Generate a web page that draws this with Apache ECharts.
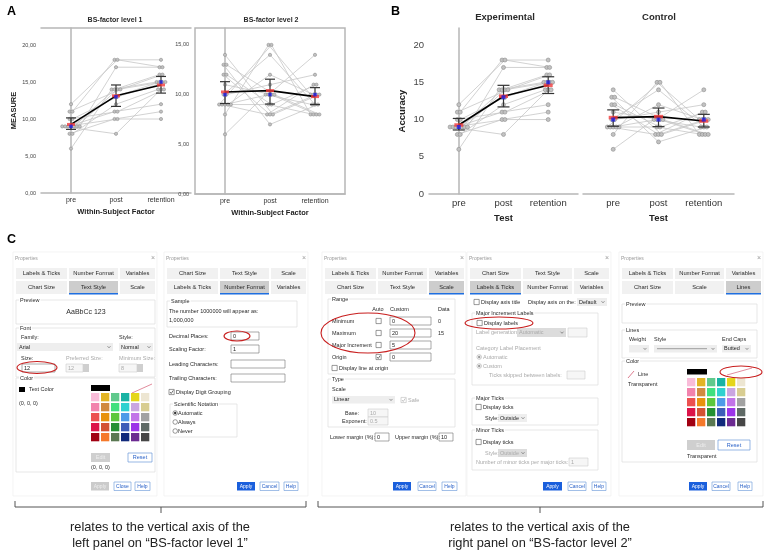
<!DOCTYPE html>
<html>
<head>
<meta charset="UTF-8">
<title>Accuracy by test - SPSS settings</title>
<script src="https://cdn.jsdelivr.net/npm/echarts@6/dist/echarts.min.js"></script>
<style>
  html, body { margin: 0; padding: 0; background: #fff; }
  #main { width: 767px; height: 552px; }
</style>
</head>
<body>
<div id="main"></div>
<script>
// ---- data ----
var tests = ['pre', 'post', 'retention'];

// experimental group (BS-factor level 1), one entry per subject
var expPre  = [6, 8, 8, 9, 9, 9, 9, 9, 9, 9, 10, 10, 11, 11, 12];
var expPost = [14, 10, 12, 8, 10, 11, 13, 14, 14, 17, 11, 13, 14, 18, 18];
var expRet  = [15, 11, 14, 14, 10, 12, 15, 16, 15, 17, 14, 15, 16, 18, 17];
// control group (BS-factor level 2)
var ctlPre  = [6, 8, 9, 9, 9, 9, 9, 10, 10, 11, 12, 12, 13, 13, 14];
var ctlPost = [10, 15, 15, 8, 10, 12, 9, 14, 11, 10, 8, 9, 7, 10, 8];
var ctlRet  = [9, 10, 8, 11, 14, 10, 8, 9, 12, 8, 10, 11, 9, 8, 10];

// error bars (lower / upper end)
var expLow  = [8.6, 11.7, 13.5];
var expHigh = [10.15, 14.6, 15.75];
var ctlLow  = [9.1, 9.05, 9.0];
var ctlHigh = [11.3, 11.55, 10.7];

var ticksA1 = [0, 5, 10, 15, 20];
var ticksA2 = [0, 5, 10, 15];
var ticksB  = [0, 5, 10, 15, 20];

var FF = '"Liberation Sans", Arial, sans-serif';

function mean(a) { return a.reduce(function (s, v) { return s + v; }, 0) / a.length; }
function median(a) { var b = a.slice().sort(function (p, q) { return p - q; }); return b[(b.length - 1) / 2]; }

// spread tied values side by side
function dodge(vals) {
  var count = {}, seen = {};
  vals.forEach(function (v) { count[v] = (count[v] || 0) + 1; });
  return vals.map(function (v) {
    seen[v] = (seen[v] || 0) + 1;
    return (seen[v] - (count[v] + 1) / 2) * 0.065;
  });
}

function errRender(cap) {
  return function (params, api) {
    var x = api.value(0);
    var lo = api.coord([x, api.value(1)]);
    var hi = api.coord([x, api.value(2)]);
    var st = { stroke: '#333', lineWidth: 1.2 };
    return { type: 'group', children: [
      { type: 'line', shape: { x1: lo[0], y1: lo[1], x2: hi[0], y2: hi[1] }, style: st },
      { type: 'line', shape: { x1: lo[0] - cap, y1: lo[1], x2: lo[0] + cap, y2: lo[1] }, style: st },
      { type: 'line', shape: { x1: hi[0] - cap, y1: hi[1], x2: hi[0] + cap, y2: hi[1] }, style: st }
    ] };
  };
}

var series = [];
function addGroup(gi, pre, post, ret, low, high, small) {
  var o0 = dodge(pre), o1 = dodge(post), o2 = dodge(ret);
  for (var i = 0; i < pre.length; i++) {
    series.push({
      type: 'line', xAxisIndex: gi, yAxisIndex: gi, silent: true, z: 2,
      data: [[0 + o0[i], pre[i]], [1 + o1[i], post[i]], [2 + o2[i], ret[i]]],
      symbol: 'circle', symbolSize: small ? 3.2 : 4,
      lineStyle: { color: '#c6c6c6', width: 0.8 },
      itemStyle: { color: '#c2c2c2', borderColor: '#8d8d8d', borderWidth: 0.6 }
    });
  }
  var groups = [pre, post, ret];
  series.push({
    type: 'custom', xAxisIndex: gi, yAxisIndex: gi, silent: true, z: 4,
    renderItem: errRender(small ? 5 : 6),
    encode: { x: 0, y: [1, 2] },
    data: tests.map(function (t, k) { return [k, low[k], high[k]]; })
  });
  series.push({
    type: 'line', xAxisIndex: gi, yAxisIndex: gi, silent: true, z: 5, symbol: 'none',
    lineStyle: { color: '#000', width: 1.6 },
    data: groups.map(function (g, k) { return [k, mean(g)]; })
  });
  series.push({
    type: 'scatter', xAxisIndex: gi, yAxisIndex: gi, silent: true, z: 6,
    symbol: 'rect', symbolSize: small ? [8, 3] : [9, 3.5], itemStyle: { color: '#f23a3a' },
    data: groups.map(function (g, k) { return [k, mean(g)]; })
  });
  series.push({
    type: 'scatter', xAxisIndex: gi, yAxisIndex: gi, silent: true, z: 7,
    symbol: 'rect', symbolSize: small ? 3.5 : 4, itemStyle: { color: '#1f1fe6' },
    data: groups.map(function (g, k) { return [k, median(g)]; })
  });
}
addGroup(0, expPre, expPost, expRet, expLow, expHigh, true);
addGroup(1, ctlPre, ctlPost, ctlRet, ctlLow, ctlHigh, true);
addGroup(2, expPre, expPost, expRet, expLow, expHigh, false);
addGroup(3, ctlPre, ctlPost, ctlRet, ctlLow, ctlHigh, false);

var frame = { color: '#b6b6b6', width: 1.5 };
function xAx(gi, fs, name, nfs, gap) {
  return {
    type: 'value', gridIndex: gi, min: -2 / 3, max: 8 / 3,
    splitLine: { show: false }, axisTick: { show: false },
    axisLine: { show: true, onZero: false, lineStyle: frame },
    axisLabel: { customValues: [0, 1, 2], formatter: function (v) { return tests[Math.round(v)]; },
                 fontSize: fs, color: '#333', margin: 4 },
    name: name, nameLocation: 'middle', nameGap: gap,
    nameTextStyle: { fontWeight: 'bold', fontSize: nfs, color: '#222' }
  };
}
function yAx(gi, max, ticks, fs, fmt, margin, name, nfs, gap, show) {
  return {
    type: 'value', gridIndex: gi, min: 0, max: max, show: show !== false,
    splitLine: { show: false }, axisTick: { show: false },
    axisLine: { show: true, lineStyle: frame },
    axisLabel: { customValues: ticks, formatter: fmt, fontSize: fs, color: '#444', margin: margin },
    name: name, nameLocation: 'middle', nameGap: gap, nameRotate: 90,
    nameTextStyle: { fontWeight: 'bold', fontSize: nfs, color: '#222' }
  };
}
function comma(v) { return v.toFixed(2).replace('.', ','); }
function plain(v) { return String(v); }

// ---- panel C: the dialog boxes ----
var G = [];
function T(x, y, s, o) {
  o = o || {};
  var st = { text: s, fill: o.c || '#2a2a2a', fontSize: o.fs || 5.5, fontFamily: FF,
             fontWeight: o.fw || 'normal', align: o.a || 'left', textAlign: o.a || 'left',
             verticalAlign: 'middle', textVerticalAlign: 'middle' };
  if (o.bg) { st.backgroundColor = o.bg; st.padding = [0, 1]; }
  G.push({ type: 'text', x: x, y: y, silent: true, z: 10, style: st });
}
function R(x, y, w, h, fill, stroke, lw) {
  G.push({ type: 'rect', silent: true, z: 5, shape: { x: x, y: y, width: w, height: h },
           style: { fill: fill || 'none', stroke: stroke || 'none', lineWidth: lw || 0.6 } });
}
function L(x1, y1, x2, y2, c, lw) {
  G.push({ type: 'line', silent: true, z: 6, shape: { x1: x1, y1: y1, x2: x2, y2: y2 },
           style: { stroke: c || '#333', lineWidth: lw || 1 } });
}
function ring(cx, cy, rx, ry) {
  G.push({ type: 'ellipse', silent: true, z: 20, shape: { cx: cx, cy: cy, rx: rx, ry: ry },
           style: { fill: 'none', stroke: '#c81e1e', lineWidth: 1.1 } });
}
function tabs(x0, row1, row2, sel) {
  var cols = [[0, 51], [53, 102], [104, 139]];
  cols.forEach(function (c, k) {
    R(x0 + c[0], 268, c[1] - c[0], 11, '#f1f1f1');
    T(x0 + (c[0] + c[1]) / 2, 273.5, row1[k], { a: 'center', fs: 5.8 });
    R(x0 + c[0], 281, c[1] - c[0], 13, k === sel ? '#cdcdcd' : '#f1f1f1');
    if (k === sel) R(x0 + c[0], 293, c[1] - c[0], 1.5, '#1f6fe0');
    T(x0 + (c[0] + c[1]) / 2, 287.5, row2[k], { a: 'center', fs: 5.8 });
  });
  T(x0 - 1, 258.5, 'Properties', { c: '#9a9a9a', fs: 5 });
  T(x0 + 137, 258.5, '×', { c: '#9a9a9a', fs: 7, a: 'center' });
  R(x0 - 3, 252, 144, 244, 'none', '#ececec', 0.6);
}
function group(x, y, w, h, label) {
  R(x, y, w, h, 'none', '#dddddd', 0.7);
  T(x + 3, y, label, { bg: '#fff', fs: 5.5 });
}
function box(x, y, checked, dis) {
  R(x, y - 2.6, 5.2, 5.2, '#fff', dis ? '#bbb' : '#555', 0.6);
  if (checked) G.push({ type: 'polyline', silent: true, z: 7,
    shape: { points: [[x + 1, y], [x + 2.2, y + 1.5], [x + 4.3, y - 1.6]] },
    style: { stroke: dis ? '#aaa' : '#333', fill: 'none', lineWidth: 0.7 } });
}
function radio(x, y, checked, dis) {
  G.push({ type: 'circle', silent: true, z: 7, shape: { cx: x + 2.2, cy: y, r: 2.3 },
           style: { fill: '#fff', stroke: dis ? '#aaa' : '#555', lineWidth: 0.6 } });
  if (checked) G.push({ type: 'circle', silent: true, z: 8, shape: { cx: x + 2.2, cy: y, r: 1.2 },
           style: { fill: dis ? '#999' : '#333' } });
}
function input(x, y, w, h, s, dis) {
  R(x, y, w, h, dis ? '#f6f6f6' : '#fff', dis ? '#cfcfcf' : '#707070', 0.6);
  if (s) T(x + 2, y + h / 2, s, { c: dis ? '#aaa' : '#222' });
}
function drop(x, y, w, h, s, dis) {
  R(x, y, w, h, dis ? '#dcdcdc' : '#eeeeee');
  if (s) T(x + 2, y + h / 2, s, { c: dis ? '#aaa' : '#222' });
  var cx = x + w - 4, cy = y + h / 2;
  G.push({ type: 'polyline', silent: true, z: 7,
    shape: { points: [[cx - 1.5, cy - 0.8], [cx, cy + 0.8], [cx + 1.5, cy - 0.8]] },
    style: { stroke: '#555', fill: 'none', lineWidth: 0.6 } });
}
function btn(x, w, s, kind) {
  var y = 482, h = 8.5;
  if (kind === 'primary') { R(x, y, w, h, '#1a5fdc'); T(x + w / 2, y + h / 2, s, { a: 'center', c: '#fff', fs: 5 }); }
  else if (kind === 'dis') { R(x, y, w, h, '#cbcbcb'); T(x + w / 2, y + h / 2, s, { a: 'center', c: '#eee', fs: 5 }); }
  else { R(x, y, w, h, '#fff', '#7aa3dd', 0.7); T(x + w / 2, y + h / 2, s, { a: 'center', c: '#2a62c8', fs: 5 }); }
}
var swatches = [
  ['#f9bcd9', '#e2b425', '#60c98c', '#19b3a4', '#e5d61b', '#ede6d2'],
  ['#f283ad', '#d08a40', '#40e07e', '#30d1d0', '#caa6e1', '#d8cd91'],
  ['#ec5050', '#e8920c', '#5cc83c', '#4e9be8', '#c273e8', '#a2a2a2'],
  ['#dc1449', '#d35232', '#249132', '#3e5db8', '#9c32e8', '#5f6a66'],
  ['#a10012', '#f5792a', '#5a7852', '#11297b', '#6b2a91', '#464646']
];
function palette(x, y) {
  swatches.forEach(function (row, r) {
    row.forEach(function (c, k) { R(x + k * 10, y + r * 10, 8.3, 8.3, c); });
  });
}

// dialog 1: Text Style
tabs(16, ['Labels & Ticks', 'Number Format', 'Variables'], ['Chart Size', 'Text Style', 'Scale'], 1);
group(16, 300, 139, 24, 'Preview');
T(86, 312, 'AaBbCc 123', { a: 'center', fs: 7 });
group(16, 328, 139, 49, 'Font');
T(21, 337, 'Family:'); T(119, 337, 'Style:');
drop(17, 343, 96, 8, 'Arial'); drop(119, 343, 34, 8, 'Normal');
T(21, 358, 'Size:'); T(66, 358, 'Preferred Size:', { c: '#aaa' }); T(119, 358, 'Minimum Size:', { c: '#aaa' });
input(22, 364, 33, 8, '12'); input(66, 364, 17, 8, '12', true); R(83, 364, 6, 8, '#cfcfcf');
input(119, 364, 18, 8, '8', true); R(137, 364, 6, 8, '#cfcfcf');
ring(37, 367.5, 20, 6);
group(16, 378, 139, 94, 'Color');
R(19, 387, 6, 5, '#000'); T(29, 389.5, 'Text Color'); T(19, 403, '(0, 0, 0)');
R(91, 385, 19, 6, '#000'); L(132, 393, 152, 384, '#d45a72', 0.7);
palette(91, 393);
R(91, 453, 19, 9, '#cfcfcf'); T(100.5, 457.5, 'Edit', { a: 'center', c: '#eee' });
R(128, 453, 24, 9, '#fff', '#6a9ad8', 0.7); T(140, 457.5, 'Reset', { a: 'center', c: '#2a62c8' });
T(91, 467, '(0, 0, 0)');
btn(91, 18, 'Apply', 'dis'); btn(114, 17, 'Close'); btn(135, 15, 'Help');

// dialog 2: Number Format
tabs(167, ['Chart Size', 'Text Style', 'Scale'], ['Labels & Ticks', 'Number Format', 'Variables'], 1);
group(167, 301, 130, 26, 'Sample');
T(169, 311, 'The number 1000000 will appear as:'); T(169, 320, '1,000,000');
T(169, 336, 'Decimal Places:'); input(231, 332, 28, 8, '0'); ring(237, 336, 13, 5);
T(169, 349, 'Scaling Factor:'); input(231, 345, 28, 8, '1');
T(169, 364, 'Leading Characters:'); input(231, 360, 54, 8, '');
T(169, 378, 'Trailing Characters:'); input(231, 374, 54, 8, '');
box(169, 392, true); T(176, 392, 'Display Digit Grouping');
group(170, 404, 67, 33, 'Scientific Notation');
radio(173, 413, true); T(178, 413, 'Automatic');
radio(173, 422); T(178, 422, 'Always');
radio(173, 431); T(178, 431, 'Never');
btn(237, 18, 'Apply', 'primary'); btn(260, 19, 'Cancel'); btn(284, 14, 'Help');

// dialog 3: Scale
tabs(325, ['Labels & Ticks', 'Number Format', 'Variables'], ['Chart Size', 'Text Style', 'Scale'], 2);
group(328, 299, 127, 75, 'Range');
T(378, 309, 'Auto', { a: 'center' }); T(390, 309, 'Custom'); T(438, 309, 'Data');
T(332, 321, 'Minimum'); box(376, 321); input(390, 317, 41, 8, '0'); T(438, 321, '0');
T(332, 333, 'Maximum'); box(376, 333); input(390, 329, 41, 8, '20'); T(438, 333, '15');
T(332, 345, 'Major Increment'); box(376, 345); input(390, 341, 41, 8, '5');
T(332, 357, 'Origin'); box(376, 357, true); input(390, 353, 41, 8, '0');
box(332, 368); T(339, 368, 'Display line at origin');
ring(368, 333, 47, 20);
group(328, 379, 127, 48, 'Type');
T(332, 389, 'Scale'); drop(332, 396, 63, 7.5, 'Linear');
box(401, 400, true, true); T(408, 400, 'Safe', { c: '#aaa' });
T(345, 413, 'Base:'); input(368, 409, 20, 8, '10', true);
T(342, 421, 'Exponent:'); input(368, 417, 20, 8, '0.5', true);
T(330, 437, 'Lower margin (%):'); input(375, 433, 14, 8, '0');
T(395, 437, 'Upper margin (%):'); input(439, 433, 14, 8, '10');
btn(393, 18, 'Apply', 'primary'); btn(418, 18, 'Cancel'); btn(442, 15, 'Help');

// dialog 4: Labels & Ticks
tabs(470, ['Chart Size', 'Text Style', 'Scale'], ['Labels & Ticks', 'Number Format', 'Variables'], 0);
box(474, 302); T(481, 302, 'Display axis title'); T(528, 302, 'Display axis on the:');
drop(577, 298, 30, 8, 'Default');
group(472, 313, 126, 72, 'Major Increment Labels');
box(477, 323); T(484, 323, 'Display labels'); ring(499, 323, 34, 6);
T(476, 332, 'Label generation', { c: '#aaa' }); drop(517, 328, 49, 9, 'Automatic', true);
input(568, 328, 19, 9, '', true);
T(476, 348, 'Category Label Placement', { c: '#aaa' });
radio(477, 357, true, true); T(483, 357, 'Automatic', { c: '#aaa' });
radio(477, 366, true, true); T(483, 366, 'Custom', { c: '#aaa' });
T(489, 375, 'Ticks skipped between labels:', { c: '#aaa' }); input(567, 371, 18, 8, '', true);
group(472, 398, 126, 27, 'Major Ticks');
box(476, 407); T(483, 407, 'Display ticks');
T(485, 418, 'Style:'); drop(498, 414, 29, 8, 'Outside');
group(472, 430, 126, 40, 'Minor Ticks');
box(476, 442); T(483, 442, 'Display ticks');
T(485, 453, 'Style:', { c: '#aaa' }); drop(498, 449, 29, 8, 'Outside', true);
T(476, 462, 'Number of minor ticks per major ticks:', { c: '#aaa' }); input(569, 458, 19, 8, '1', true);
btn(543, 19, 'Apply', 'primary'); btn(568, 18, 'Cancel'); btn(592, 14, 'Help');

// dialog 5: Lines
tabs(622, ['Labels & Ticks', 'Number Format', 'Variables'], ['Chart Size', 'Scale', 'Lines'], 2);
group(622, 304, 135, 19, 'Preview');
group(622, 330, 135, 28, 'Lines');
T(629, 339, 'Weight'); T(654, 339, 'Style'); T(722, 339, 'End Caps');
drop(629, 345, 20, 7.5, ''); drop(654, 345, 63, 7.5, ''); L(657, 348.7, 707, 348.7, '#888', 0.8);
drop(722, 345, 29, 7.5, 'Butted');
group(622, 361, 135, 101, 'Color');
L(628, 378, 634, 371, '#d45a72', 0.8); T(638, 374, 'Line'); T(628, 384, 'Transparent');
R(687, 369, 20, 5.5, '#000'); L(727, 375, 752, 368, '#d45a72', 0.7); ring(741, 372, 21, 6);
palette(687, 378);
R(687, 440, 28, 10, '#cfcfcf'); T(701, 445, 'Edit', { a: 'center', c: '#eee' });
R(718, 440, 32, 10, '#fff', '#6a9ad8', 0.7); T(734, 445, 'Reset', { a: 'center', c: '#2a62c8' });
T(687, 456, 'Transparent');
btn(689, 18, 'Apply', 'primary'); btn(712, 18, 'Cancel'); btn(738, 14, 'Help');

// braces and notes
function brace(x1, x2, xm) {
  L(x1, 501, x1, 507, '#555', 1); L(x1, 507, x2, 507, '#555', 1); L(x2, 507, x2, 501, '#555', 1);
  L(xm, 507, xm, 513, '#555', 1);
}
brace(15, 306, 161);
brace(318, 763, 540);
T(160, 527, 'relates to the vertical axis of the', { a: 'center', fs: 12.8, c: '#222' });
T(160, 543, 'left panel on \u201cBS-factor level 1\u201d', { a: 'center', fs: 12.8, c: '#222' });
T(540, 527, 'relates to the vertical axis of the', { a: 'center', fs: 12.8, c: '#222' });
T(540, 543, 'right panel on \u201cBS-factor level 2\u201d', { a: 'center', fs: 12.8, c: '#222' });

// panel letters and titles
T(7, 12, 'A', { fs: 12.5, fw: 'bold', c: '#000' });
T(391, 12, 'B', { fs: 12.5, fw: 'bold', c: '#000' });
T(7, 240, 'C', { fs: 12.5, fw: 'bold', c: '#000' });
T(115, 20, 'BS-factor level 1', { a: 'center', fs: 7, fw: 'bold' });
T(271, 20, 'BS-factor level 2', { a: 'center', fs: 7, fw: 'bold' });
T(505, 17, 'Experimental', { a: 'center', fs: 9.5, fw: 'bold' });
T(659, 17, 'Control', { a: 'center', fs: 9.5, fw: 'bold' });

var chart = echarts.init(document.getElementById('main'));
chart.setOption({
  animation: false,
  backgroundColor: '#fff',
  textStyle: { fontFamily: FF },
  grid: [
    { left: 41, top: 28, width: 150, height: 165 },
    { left: 195, top: 28, width: 150, height: 166, show: true, borderColor: '#b6b6b6', borderWidth: 1.5 },
    { left: 429, top: 28, width: 149, height: 166 },
    { left: 583, top: 28, width: 151, height: 166 }
  ],
  xAxis: [
    xAx(0, 7, 'Within-Subject Factor', 7.5, 15),
    xAx(1, 7, 'Within-Subject Factor', 7.5, 15),
    xAx(2, 9.5, 'Test', 9.5, 19),
    xAx(3, 9.5, 'Test', 9.5, 19),
    { type: 'value', gridIndex: 0, position: 'top', min: 0, max: 1,
      axisLine: { show: true, onZero: false, lineStyle: frame },
      axisLabel: { show: false }, axisTick: { show: false }, splitLine: { show: false } }
  ],
  yAxis: [
    yAx(0, 22.3, ticksA1, 5.5, comma, 5, 'MEASURE', 7.5, 22),
    yAx(1, 16.7, ticksA2, 5.5, comma, 6, '', 7, 20),
    yAx(2, 22.3, ticksB, 9.5, plain, 5, 'Accuracy', 9.5, 22),
    yAx(3, 22.3, ticksB, 9.5, plain, 5, '', 9, 20, false)
  ],
  series: series,
  graphic: { elements: G }
});
</script>
</body>
</html>
